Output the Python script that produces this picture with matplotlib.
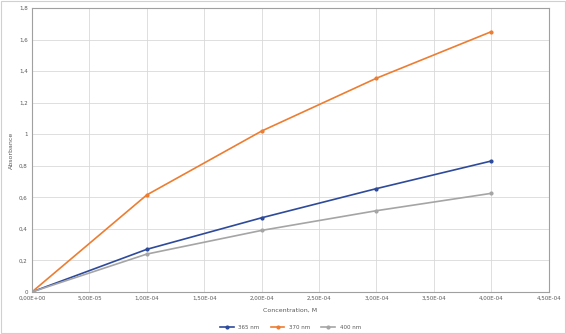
import matplotlib
matplotlib.use("Agg")
import matplotlib.pyplot as plt
from matplotlib.ticker import FuncFormatter, MultipleLocator
from matplotlib.patches import Rectangle

conc = [0, 1e-4, 2e-4, 3e-4, 4e-4]
abs_365 = [0, 0.27, 0.47, 0.655, 0.83]
abs_370 = [0, 0.615, 1.02, 1.355, 1.65]
abs_400 = [0, 0.24, 0.39, 0.515, 0.625]
series_labels = ["365 nm", "370 nm", "400 nm"]
colors = ["#2E4A9A", "#ED7D31", "#A5A5A5"]

fig = plt.figure(figsize=(5.66, 3.34), dpi=100)
ax = fig.add_axes([0.0565, 0.126, 0.913, 0.85])

for y, lab, c in zip([abs_365, abs_370, abs_400], series_labels, colors):
    ax.plot(conc, y, color=c, lw=1.2, marker='o', ms=2, label=lab)

ax.set_xlim(0, 4.5e-4)
ax.set_ylim(0, 1.8)
ax.xaxis.set_major_locator(MultipleLocator(5e-5))
ax.yaxis.set_major_locator(MultipleLocator(0.2))

def xfmt(v, p):
    s = "%.2E" % v
    return s.replace(".", ",")

def yfmt(v, p):
    s = ("%.1f" % v).rstrip("0").rstrip(".")
    return s.replace(".", ",")

ax.xaxis.set_major_formatter(FuncFormatter(xfmt))
ax.yaxis.set_major_formatter(FuncFormatter(yfmt))
ax.tick_params(labelsize=4, colors="#595959", length=0, pad=3)
ax.grid(True, color="#D9D9D9", lw=0.6)
ax.set_axisbelow(True)
for s in ax.spines.values():
    s.set_color("#A0A0A0")
    s.set_linewidth(0.8)

ax.set_ylabel("Absorbance", fontsize=4.5, color="#595959", labelpad=4)
ax.set_xlabel("Concentration, M", fontsize=4.5, color="#595959", labelpad=5)

leg = ax.legend(loc="upper center", bbox_to_anchor=(0.5, -0.1), ncol=3,
                fontsize=4, frameon=False, handlelength=2.5, columnspacing=2,
                labelcolor="#595959")

# chart area border
fig.patches.append(Rectangle((0.002, 0.003), 0.996, 0.994, transform=fig.transFigure,
                             fill=False, edgecolor="#D0D0D0", lw=0.8))

fig.savefig("out.png", dpi=100, facecolor="white")
